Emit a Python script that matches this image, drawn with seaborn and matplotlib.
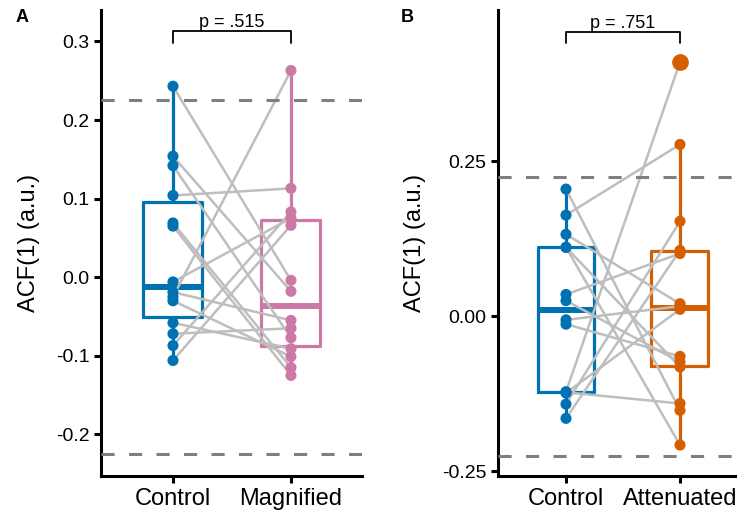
import matplotlib
matplotlib.use("Agg")
import matplotlib.pyplot as plt
import seaborn as sns
import pandas as pd

# ---------------- data ----------------
subjects_a = list(range(1, 15))
control_a = [0.243, 0.154, 0.142, 0.104, 0.069, 0.065, -0.006, -0.019,
             -0.025, -0.030, -0.058, -0.072, -0.087, -0.106]
magnified_a = [-0.004, -0.018, -0.077, 0.113, -0.115, -0.125, 0.075, -0.055,
               0.263, -0.101, -0.091, -0.065, 0.083, 0.066]

subjects_b = list(range(1, 15))
control_b = [0.205, 0.163, 0.132, 0.111, 0.111, 0.035, 0.025, -0.006,
             -0.013, -0.122, -0.123, -0.124, -0.142, -0.165]
attenuated_b = [-0.152, 0.277, 0.020, -0.208, -0.082, 0.101, -0.074, 0.016,
                -0.065, 0.410, -0.141, 0.011, 0.153, 0.106]

cats_a = ["Control", "Magnified"]
cats_b = ["Control", "Attenuated"]
colors_a = {"Control": "#0072B2", "Magnified": "#CC79A7"}
colors_b = {"Control": "#0072B2", "Attenuated": "#D55E00"}
p_a = "p = .515"
p_b = "p = .751"
threshold = 0.225
yticks_a = [-0.2, -0.1, 0.0, 0.1, 0.2, 0.3]
yticks_b = [-0.25, 0.0, 0.25]
ylabel = "ACF(1) (a.u.)"

# ---------------- style ----------------
sns.set_style("white")
plt.rcParams["font.family"] = ["Liberation Sans", "DejaVu Sans"]
plt.rcParams["axes.unicode_minus"] = False
for k in ("text.color", "axes.labelcolor", "xtick.color", "ytick.color"):
    plt.rcParams[k] = "black"

fig = plt.figure(figsize=(7.37, 5.16), dpi=100)
axA = fig.add_axes([101 / 737, 40 / 516, 261 / 737, 466 / 516])
axB = fig.add_axes([498 / 737, 40 / 516, 237 / 737, 466 / 516])


def panel(ax, subjects, v1, v2, cats, colors, pval, yticks, yfmt, ylim, xlim,
          bracket_y, bracket_h, label_x):
    df = pd.DataFrame({
        "subject": subjects + subjects,
        "condition": [cats[0]] * len(v1) + [cats[1]] * len(v2),
        "acf": v1 + v2,
    })
    sns.boxplot(data=df, x="condition", y="acf", hue="condition", order=cats,
                hue_order=cats, palette=colors, width=0.5, fill=False,
                linewidth=2.3, showcaps=False, legend=False,
                medianprops=dict(linewidth=4.3),
                flierprops=dict(marker="o", markersize=11,
                                markerfacecolor=colors[cats[1]],
                                markeredgecolor=colors[cats[1]], zorder=5),
                ax=ax)
    sns.lineplot(data=df, x="condition", y="acf", units="subject",
                 estimator=None, color="#BEBEBE", linewidth=1.8, sort=False,
                 ax=ax, zorder=3)
    sns.stripplot(data=df, x="condition", y="acf", hue="condition", order=cats,
                  hue_order=cats, palette=colors, jitter=False, size=8,
                  linewidth=0, legend=False, ax=ax, zorder=4)
    for yv in (threshold, -threshold):
        ax.axhline(yv, color="#7F7F7F", linewidth=2.2,
                   linestyle=(0, (4.3, 4.7)), zorder=3.5)
    # significance bracket
    ax.plot([0, 0, 1, 1],
            [bracket_y - bracket_h, bracket_y, bracket_y, bracket_y - bracket_h],
            color="black", linewidth=1.3, clip_on=False, zorder=5)
    ax.text(0.5, bracket_y, pval, ha="center", va="bottom", fontsize=13,
            color="black")

    ax.set_xlim(*xlim)
    ax.set_ylim(*ylim)
    ax.set_yticks(yticks)
    ax.set_yticklabels([yfmt.format(t) for t in yticks])
    ax.set_xlabel("")
    ax.set_ylabel(ylabel, fontsize=17, color="black")
    ax.yaxis.set_label_coords(label_x, 0.5)
    sns.despine(ax=ax)
    for s in ("left", "bottom"):
        ax.spines[s].set_linewidth(2.2)
        ax.spines[s].set_color("black")
    ax.tick_params(axis="both", direction="out", length=5.3, width=2.2,
                   color="black", labelcolor="black", bottom=True, left=True)
    ax.tick_params(axis="y", labelsize=14, pad=3)
    ax.tick_params(axis="x", labelsize=17, pad=3)
    ax.set_facecolor("white")


panel(axA, subjects_a, control_a, magnified_a, cats_a, colors_a, p_a,
      yticks_a, "{:.1f}", (-0.253, 0.340), (-0.610, 1.602), 0.313, 0.015,
      -0.234)
panel(axB, subjects_b, control_b, attenuated_b, cats_b, colors_b, p_b,
      yticks_b, "{:.2f}", (-0.258, 0.494), (-0.5965, 1.4825), 0.4585, 0.0185,
      -0.305)

fig.text(22 / 737, 1 - 18 / 516, "A", fontsize=13, fontweight="bold",
         ha="center", va="center")
fig.text(407 / 737, 1 - 18 / 516, "B", fontsize=13, fontweight="bold",
         ha="center", va="center")

fig.savefig("out.png", dpi=100, facecolor="white")
